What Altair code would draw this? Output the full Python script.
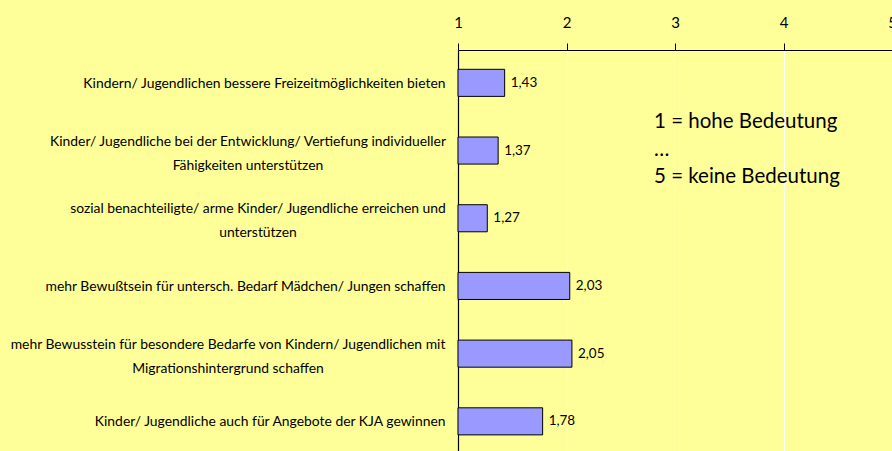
import altair as alt
import pandas as pd

categories = [
    "Kindern/ Jugendlichen bessere Freizeitmöglichkeiten bieten",
    "Kinder/ Jugendliche bei der Entwicklung/ Vertiefung individueller|Fähigkeiten unterstützen",
    "sozial benachteiligte/ arme Kinder/ Jugendliche erreichen und|unterstützen",
    "mehr Bewußtsein für untersch. Bedarf Mädchen/ Jungen schaffen",
    "mehr Bewusstein für besondere Bedarfe von Kindern/ Jugendlichen mit|Migrationshintergrund schaffen",
    "Kinder/ Jugendliche auch für Angebote der KJA gewinnen",
]
values = [1.43, 1.37, 1.27, 2.03, 2.05, 1.78]
tick_values = [1, 2, 3, 4, 5]
annotation_lines = ["1 = hohe Bedeutung", "…", "5 = keine Bedeutung"]

df = pd.DataFrame({"category": categories, "value": values})
df["label"] = [f"{v:.2f}".replace(".", ",") for v in values]

FONT = "Lato"

xscale = alt.Scale(domain=[1, 5], nice=False, zero=False)
yscale = alt.Scale(paddingInner=0.6, paddingOuter=0.2616, align=0.545)

two_line = "indexof(datum.value, '|') >= 0"

base = alt.Chart(df)

bars = base.mark_bar(color="#9999FF", stroke="black", strokeWidth=1).encode(
    x=alt.X(
        "value:Q",
        scale=xscale,
        axis=alt.Axis(
            orient="top",
            values=tick_values,
            format="d",
            title=None,
            grid=True,
            gridColor="white",
            gridWidth=1,
            gridOpacity=1,
            domainColor="black",
            domainWidth=1.2,
            tickColor="black",
            tickSize=7,
            labelFlush=False,
            labelPadding=13,
            labelFont=FONT,
            labelFontSize=15,
            labelColor="black",
        ),
    ),
    x2=alt.datum(1),
    y=alt.Y(
        "category:N",
        sort=None,
        scale=yscale,
        axis=alt.Axis(
            title=None,
            ticks=False,
            domainColor="black",
            domainWidth=1.2,
            labelExpr="split(datum.label, '|')",
            labelAlign={"condition": {"test": two_line, "value": "center"}, "value": "right"},
            labelPadding={
                "condition": [
                    {"test": "indexof(datum.value, 'Entwicklung') >= 0", "value": 210.5},
                    {"test": "indexof(datum.value, 'erreichen') >= 0", "value": 200.5},
                    {"test": "indexof(datum.value, 'Migration') >= 0", "value": 230.5},
                ],
                "value": 13,
            },
            labelOffset={"condition": {"test": two_line, "value": -9}, "value": 1},
            labelFont=FONT,
            labelFontSize=13.9,
            labelColor="black",
            labelLineHeight=24,
            labelLimit=0,
        ),
    ),
)

texts = base.mark_text(align="left", dx=6, font=FONT, fontSize=13.5, color="black").encode(
    x=alt.X("value:Q", scale=xscale),
    y=alt.Y("category:N", sort=None, scale=yscale),
    text="label:N",
)

ann_df = pd.DataFrame({"t": ["|".join(annotation_lines)]})
annotation = alt.Chart(ann_df).mark_text(
    align="left",
    baseline="alphabetic",
    lineBreak="|",
    lineHeight=27.5,
    font=FONT,
    fontSize=20.5,
    color="black",
).encode(
    x=alt.value(196),
    y=alt.value(78),
    text="t:N",
)

chart = (
    alt.layer(bars, texts, annotation)
    .properties(
        width=434,
        height=401,
        autosize=alt.AutoSizeParams(type="none"),
        padding={"left": 458, "top": 50, "right": 0, "bottom": 0},
        background="#FFFF99",
    )
    .configure_view(stroke=None)
)

chart.save("out.html", embed_options={"renderer": "svg", "actions": False})
